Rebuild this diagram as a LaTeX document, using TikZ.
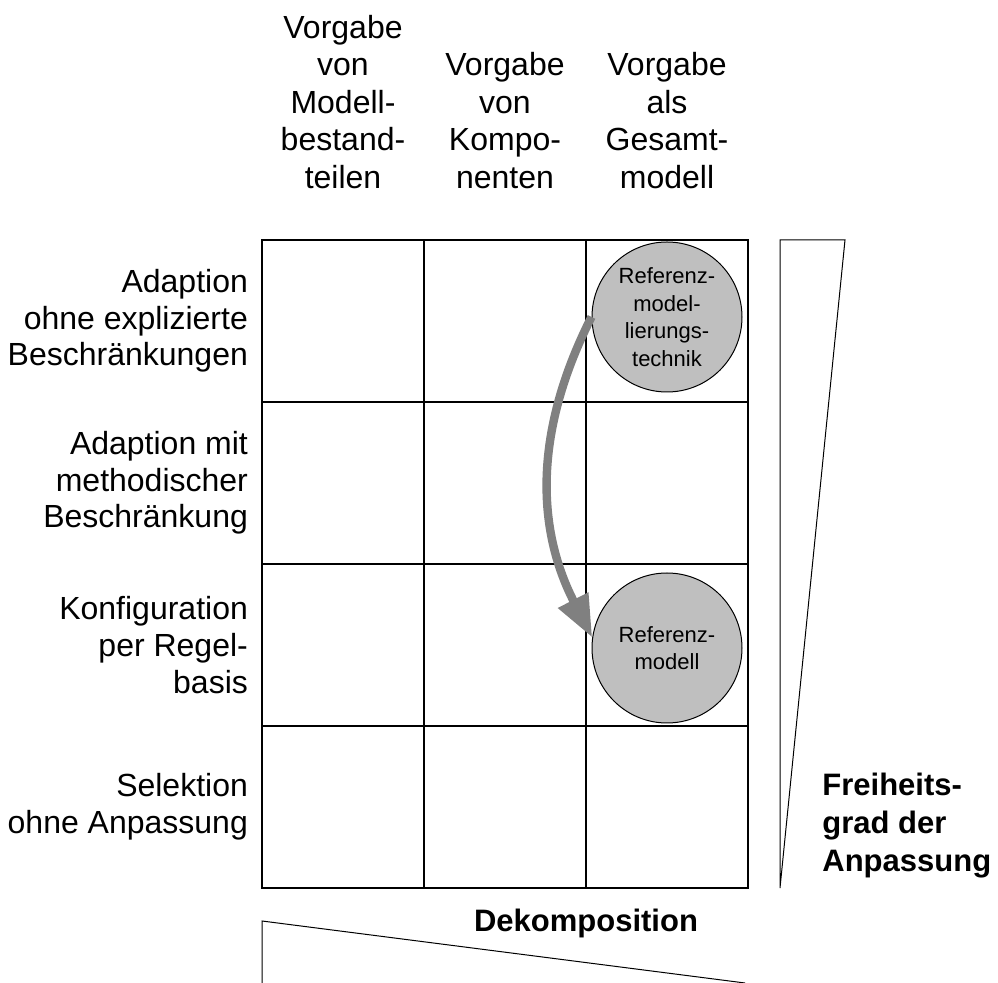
\documentclass[tikz,border=0pt]{standalone}
\usepackage{fontspec}
\setmainfont{Liberation Sans}
\usetikzlibrary{positioning, arrows.meta}
\tikzstyle{cell} = [rectangle, draw=black, line width=0.7pt, minimum size=81pt, inner sep=0pt]
\tikzstyle{rowlabel} = [align=right, inner sep=0pt, font=\fontsize{16}{18.3}\selectfont]
\tikzstyle{collabel} = [align=center, inner sep=0pt, font=\fontsize{16}{18.8}\selectfont]
\tikzstyle{model} = [circle, draw=black, line width=0.5pt, fill=gray!50, minimum size=75pt, inner sep=0pt, align=center, font=\fontsize{11}{13.8}\selectfont]
\tikzstyle{axislabel} = [inner sep=0pt, font=\bfseries\fontsize{15.5}{19}\selectfont]
\tikzstyle{wedge} = [draw=black, line width=0.5pt]
\tikzstyle{arrow} = [line width=4.2pt, draw=gray, -{Triangle[length=21pt,width=16pt]}]

\begin{document}
\begin{tikzpicture}[x=0.5pt, y=-0.5pt]
\useasboundingbox (0,0) rectangle (998,983);
% Grid
\foreach \r in {1,...,4}
  \foreach \c in {1,...,3}
    \node (c\r\c) [cell] at ({262+162*(\c-0.5)}, {240+162*(\r-0.5)}) {};

% Column labels
\node (vgteile) [collabel, above=25pt of c11.north] {Vorgabe\\von\\Modell-\\bestand-\\teilen};
\node (vgkomp) [collabel, above=25pt of c12.north] {Vorgabe\\von\\Kompo-\\nenten};
\node (vggesamt) [collabel, above=25pt of c13.north] {Vorgabe\\als\\Gesamt-\\modell};

% Row labels
\node (adapt) [rowlabel, left=6.5pt of c11.west] {Adaption\\ohne explizierte\\Beschränkungen};
\node (adaptmeth) [rowlabel, left=6.5pt of c21.west] {Adaption mit\\methodischer\\Beschränkung};
\node (konfig) [rowlabel, left=6.5pt of c31.west] {Konfiguration\\per Regel-\\basis};
\node (selekt) [rowlabel, left=6.5pt of c41.west] {Selektion\\ohne Anpassung};

% Models
\node (technik) [model] at (667,317) {Referenz-\\model-\\lierungs-\\technik};
\node (refmodell) [model] at (667,648) {Referenz-\\modell};

% Wedges
\draw [wedge] (780,888) -- (780,240) -- (845,240) -- cycle;
\draw [wedge] (262,983) -- (262,921) -- (745,983);

% Axis labels
\node (freiheit) [axislabel, align=left, anchor=north west] at (822,773) {Freiheits-\\grad der\\Anpassung};
\node (dekomp) [axislabel, anchor=base] at (586,932) {Dekomposition};

% Arrows
\draw [arrow] (technik.west) to[bend right=27] (refmodell.172);
\end{tikzpicture}
\end{document}
